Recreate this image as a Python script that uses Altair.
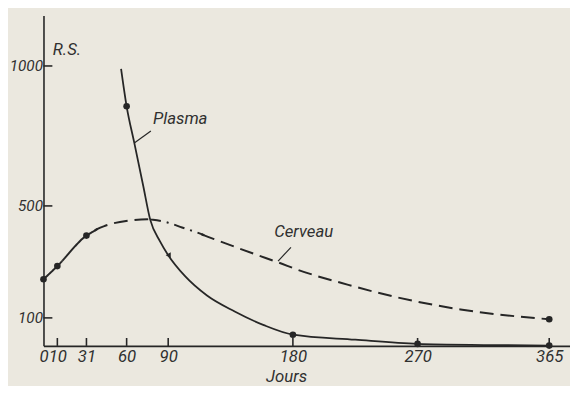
import altair as alt
import pandas as pd

# ---- data ----
cerveau_days = [0, 10, 31, 37, 38, 39, 45, 61, 75, 77, 78, 79, 90, 100, 114, 115, 116, 125, 153, 170, 184, 220, 253, 301, 365]
cerveau_vals = [238, 285, 394, 412, 415, 418, 430, 447, 452, 451.5, 451, 450.4, 440, 423, 399, 397, 395, 378, 327, 297, 271, 218, 176, 130, 95]
# line-style breakpoints along the Cerveau curve (solid, dashed, dash-dot, dashed)
cerveau_breaks = [0, 38, 78, 115, 365]
cerveau_styles = ["solid", "dash", "dashdot", "dash"]
cerveau_mark_days = [0, 10, 31, 365]

plasma_days = [56, 60, 65.5, 72, 77, 84, 90, 102, 118, 138, 159, 180, 225, 270, 320, 365]
plasma_vals = [990, 856, 726, 571, 451, 374, 324, 250, 180, 123, 74, 40, 22, 7, 3, 1]
plasma_mark_days = [60, 180, 270, 365]
plasma_arrow_days = [90]

x_ticks = [0, 10, 31, 60, 90, 180, 270, 365]
y_ticks = [100, 500, 1000]

labels = ["Plasma", "Cerveau"]
label_days = [79, 166.5]
label_vals = [812, 405]
leader_days = [77.5, 178.6]
leader_vals = [768, 352]
leader_days2 = [65.5, 169.3]
leader_vals2 = [725, 303]

# ---- styling ----
INK = "#262626"
TXT = "#303030"
BG = "#ebe8df"
FONT = "Roboto, Liberation Sans, sans-serif"
FS = 17
XMAX = 380
YMAX = 1180

xs = alt.Scale(domain=[0, XMAX], nice=False, zero=False)
ys = alt.Scale(domain=[0, YMAX], nice=False, zero=False)

# each style segment also takes the neighbouring point on either side so the
# curve stays smooth across style changes
rows = []
for i, style in enumerate(cerveau_styles):
    ia = cerveau_days.index(cerveau_breaks[i])
    ib = cerveau_days.index(cerveau_breaks[i + 1])
    lo = max(ia - 1, 0) if i > 0 else ia
    hi = min(ib + 1, len(cerveau_days) - 1) if i < len(cerveau_styles) - 1 else ib
    for k in range(lo, hi + 1):
        rows.append({"day": cerveau_days[k], "val": cerveau_vals[k], "seg": i, "style": style})
cerv_df = pd.DataFrame(rows)
cerv_pts = pd.DataFrame({"day": cerveau_mark_days,
                         "val": [cerveau_vals[cerveau_days.index(d)] for d in cerveau_mark_days]})
plas_df = pd.DataFrame({"day": plasma_days, "val": plasma_vals})
plas_pts = pd.DataFrame({"day": plasma_mark_days,
                         "val": [plasma_vals[plasma_days.index(d)] for d in plasma_mark_days]})
plas_arrow = pd.DataFrame({"day": plasma_arrow_days,
                           "val": [plasma_vals[plasma_days.index(d)] for d in plasma_arrow_days]})
lab_df = pd.DataFrame({"label": labels, "day": label_days, "val": label_vals})
lead_df = pd.DataFrame({"day": leader_days, "val": leader_vals, "day2": leader_days2, "val2": leader_vals2})
xt_df = pd.DataFrame({"day": x_ticks[1:]})
yt_df = pd.DataFrame({"val": y_ticks})

x_axis = alt.Axis(values=x_ticks, format="d", tickSize=0, labelPadding=3, grid=False,
                  domainColor=INK, domainWidth=1.6, labelFont=FONT, labelFontSize=FS,
                  labelFontStyle="italic", labelColor=TXT, labelFlush=False, labelOverlap=False,
                  title="Jours", titleFont=FONT, titleFontSize=FS, titleFontStyle="italic",
                  titleFontWeight="normal", titleColor=TXT, titleX=246, titleY=31,
                  titleBaseline="middle", titleAnchor="start", titleAlign="center")
y_axis = alt.Axis(values=y_ticks, format="d", tickSize=0, labelPadding=1, grid=False,
                  domainColor=INK, domainWidth=1.6, labelFont=FONT, labelFontSize=15.5,
                  labelFontStyle="italic", labelColor=TXT, labelOverlap=False,
                  title="R.S.", titleFont=FONT, titleFontSize=FS, titleFontStyle="italic",
                  titleFontWeight="normal", titleColor=TXT, titleAngle=0, titleX=9, titleY=34,
                  titleAlign="left", titleBaseline="middle")

base_x = alt.X("day:Q", scale=xs, axis=x_axis)
base_y = alt.Y("val:Q", scale=ys, axis=y_axis)

cerv_line = alt.Chart(cerv_df).mark_line(color=INK, strokeWidth=2, interpolate="monotone").encode(
    x=base_x, y=base_y,
    strokeDash=alt.StrokeDash("style:N", scale=alt.Scale(domain=["solid", "dash", "dashdot"],
                                                         range=[[1, 0], [14, 7], [11, 6, 2, 6]]),
                              legend=None),
    detail="seg:N")
cerv_mark = alt.Chart(cerv_pts).mark_point(filled=True, color=INK, size=45, opacity=1).encode(
    x=alt.X("day:Q", scale=xs), y=alt.Y("val:Q", scale=ys))

plas_line = alt.Chart(plas_df).mark_line(color=INK, strokeWidth=1.8, interpolate="monotone").encode(
    x=alt.X("day:Q", scale=xs), y=alt.Y("val:Q", scale=ys))
plas_mark = alt.Chart(plas_pts).mark_point(filled=True, color=INK, size=45, opacity=1).encode(
    x=alt.X("day:Q", scale=xs), y=alt.Y("val:Q", scale=ys))
plas_arr = alt.Chart(plas_arrow).mark_point(filled=True, color=INK, size=35, shape="triangle-left",
                                            opacity=1).encode(
    x=alt.X("day:Q", scale=xs), y=alt.Y("val:Q", scale=ys))

xtick = alt.Chart(xt_df).mark_rule(color=INK, strokeWidth=1.6).encode(
    x=alt.X("day:Q", scale=xs), y=alt.value(335), y2=alt.value(327))
ytick = alt.Chart(yt_df).mark_rule(color=INK, strokeWidth=1.6).encode(
    y=alt.Y("val:Q", scale=ys), x=alt.value(0), x2=alt.value(9))

text = alt.Chart(lab_df).mark_text(font=FONT, fontSize=FS, fontStyle="italic", color=TXT,
                                   align="left", baseline="middle").encode(
    x=alt.X("day:Q", scale=xs), y=alt.Y("val:Q", scale=ys), text="label:N")
leaders = alt.Chart(lead_df).mark_rule(color=INK, strokeWidth=1.2).encode(
    x=alt.X("day:Q", scale=xs), y=alt.Y("val:Q", scale=ys), x2="day2:Q", y2="val2:Q")

chart = alt.layer(cerv_line, cerv_mark, plas_line, plas_mark, plas_arr, xtick, ytick, leaders, text).properties(
    width=534, height=335, autosize="none",
    padding={"left": 36, "top": 5, "right": 0, "bottom": 38},
    background=BG,
).configure_view(stroke=None)

chart.save("out.html", embed_options={"renderer": "svg", "actions": False})
